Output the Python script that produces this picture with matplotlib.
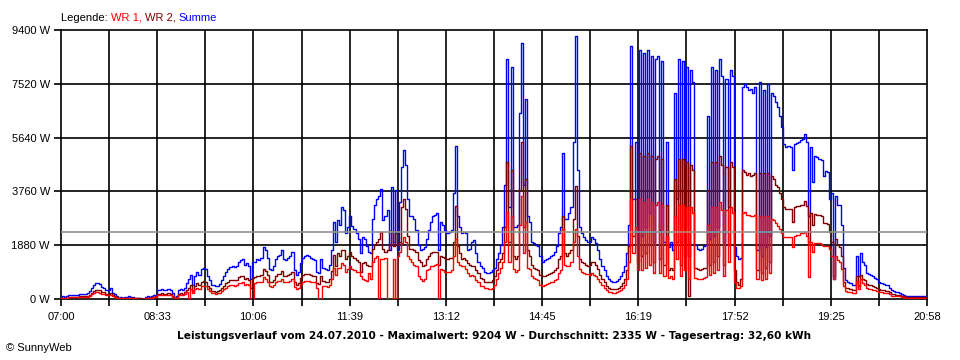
import numpy as np
import matplotlib
matplotlib.use('Agg')
import matplotlib.pyplot as plt

# ---- data (W), one sample every 2 minutes from 07:00 to 20:58 ----
summe = [
    80, 90, 70, 90, 130, 130, 140, 130, 140, 170,
    170, 180, 180, 200, 270, 380, 480, 550, 560, 520,
    430, 400, 300, 330, 370, 220, 190, 120, 50, 60,
    50, 70, 80, 90, 80, 70, 50, 40, 30, 0,
    0, 80, 90, 80, 120, 140, 150, 320, 330, 340,
    330, 320, 340, 320, 200, 40, 100, 300, 350, 330,
    400, 550, 700, 850, 500, 800, 950, 850, 1050, 1100,
    1050, 800, 650, 500, 480, 440, 460, 520, 650, 800,
    950, 1050, 1130, 1150, 1120, 1150, 1300, 1360, 1400, 1200,
    1250, 1150, 700, 1300, 1300, 1400, 1380, 1450, 1800, 1700,
    1450, 1050, 1000, 1150, 1400, 1500, 1530, 1700, 1400, 1380,
    1450, 1500, 1650, 1000, 850, 950, 1250, 1450, 1500, 1530,
    1500, 1450, 1400, 1380, 950, 900, 1400, 1100, 1050, 1000,
    1200, 1700, 2700, 2000, 2750, 2600, 3200, 3100, 2300, 2500,
    2900, 2550, 2450, 2300, 2100, 1600, 2150, 2100, 1850, 1650,
    1600, 2800, 3300, 3500, 3600, 3850, 2750, 2900, 3100, 1700,
    3900, 2000, 3800, 1700, 3400, 4600, 5200, 4700, 3500, 2900,
    2900, 2800, 2400, 1900, 1700, 1750, 1800, 2100, 2400, 2700,
    2900, 2950, 3000, 1700, 2700, 2600, 2400, 2300, 2350, 2400,
    3700, 5350, 2900, 2500, 2300, 2350, 2300, 1700, 1750, 2000,
    2050, 1600, 1300, 1150, 1100, 950, 900, 900, 950, 1000,
    1100, 1400, 1600, 1900, 2500, 4000, 8400, 3200, 8100, 2500,
    2500, 2600, 6500, 8950, 4000, 7000, 2900, 2700, 2000, 1950,
    1900, 1850, 1500, 1300, 1350, 1400, 1450, 1500, 1550, 1650,
    1850, 2300, 2500, 5100, 2800, 2800, 3000, 3200, 5500, 9200,
    4500, 2500, 2300, 2150, 2050, 2000, 2000, 2150, 2100, 1950,
    1700, 1400, 1150, 1000, 800, 700, 620, 600, 600, 620,
    700, 800, 950, 1150, 1600, 2600, 8850, 3500, 5500, 2000,
    8700, 2200, 8600, 2500, 8700, 3000, 8500, 2000, 8400, 8500,
    2400, 8300, 2000, 5500, 1800, 2000, 1700, 7200, 3500, 8400,
    2000, 8300, 2500, 8100, 1500, 8000, 7600, 1900, 1750, 1700,
    1750, 1850, 1900, 6400, 2100, 8100, 2200, 8000, 2500, 8400,
    7800, 2000, 7700, 3200, 8000, 7800, 1800, 1500, 1400, 1450,
    7400, 7500, 7400, 7300, 7350, 7200, 7400, 1700, 7600, 1500,
    7300, 1800, 7500, 2200, 7200, 7100, 6900, 6700, 6400, 6000,
    5400, 5300, 5350, 5300, 4500, 5400, 5450, 5500, 5550, 5600,
    5750, 5500, 2900, 5300, 4100, 5000, 4950, 4900, 4850, 4300,
    4480, 4450, 3500, 3700, 700, 3600, 3300, 3300, 2600, 1100,
    650, 600, 550, 500, 500, 1500, 800, 1600, 1300, 1200,
    900, 870, 850, 800, 750, 700, 600, 550, 520, 500,
    480, 400, 300, 280, 250, 230, 220, 180, 150, 120,
    100, 90, 90, 90, 90, 100, 90, 120, 100, 60,
]

wr2 = [
    50, 50, 40, 50, 75, 75, 80, 75, 80, 100,
    100, 105, 105, 115, 155, 220, 280, 320, 325, 300,
    250, 230, 175, 190, 215, 130, 110, 70, 30, 35,
    30, 40, 45, 50, 45, 40, 30, 25, 20, 0,
    0, 45, 50, 45, 70, 80, 90, 185, 190, 195,
    190, 185, 195, 185, 115, 25, 60, 175, 200, 190,
    230, 320, 400, 490, 290, 460, 550, 490, 610, 640,
    610, 460, 380, 290, 280, 255, 265, 300, 380, 460,
    550, 610, 655, 665, 650, 665, 755, 790, 810, 700,
    725, 665, 400, 750, 755, 810, 800, 840, 1040, 990,
    840, 610, 580, 665, 810, 870, 890, 990, 810, 800,
    840, 870, 955, 580, 490, 550, 725, 840, 870, 890,
    870, 840, 810, 800, 550, 520, 810, 640, 610, 580,
    700, 990, 1550, 1160, 1600, 1500, 1720, 1700, 1400, 1500,
    1650, 1500, 1450, 1350, 1280, 930, 1250, 1280, 1200, 1170,
    1170, 1750, 1900, 2000, 2100, 2330, 1750, 1650, 1700, 1900,
    2330, 1860, 2300, 1900, 2000, 3200, 3500, 3150, 2200, 1750,
    1750, 1700, 1630, 1350, 1280, 1170, 1200, 1400, 1500, 1600,
    1630, 1630, 1630, 1200, 1500, 1480, 1450, 1400, 1420, 1450,
    2000, 3260, 1860, 1600, 1400, 1420, 1380, 1250, 1200, 1170,
    1170, 1000, 900, 750, 700, 600, 580, 580, 580, 650,
    800, 1000, 1300, 1400, 1600, 2500, 4780, 2000, 4500, 1500,
    1400, 1500, 3800, 5480, 2500, 4200, 1700, 1500, 1200, 1100,
    1050, 1000, 850, 800, 820, 850, 880, 900, 930, 1000,
    1100, 1400, 1500, 2900, 1600, 1500, 1600, 1700, 2800, 3960,
    2200, 1400, 1300, 1250, 1200, 1170, 1200, 1300, 1280, 1200,
    1050, 850, 700, 600, 450, 380, 350, 340, 340, 350,
    400, 470, 550, 700, 1000, 1860, 5360, 2200, 3500, 1300,
    5100, 1500, 5000, 1600, 5100, 1900, 5000, 1300, 4900, 5000,
    1400, 4900, 1200, 3300, 1000, 1100, 1000, 4200, 2000, 4900,
    1200, 4900, 1500, 4800, 100, 4700, 4500, 1100, 1050, 1000,
    1050, 1100, 1100, 3800, 1200, 4800, 1300, 4800, 1500, 5000,
    4700, 1200, 4600, 1900, 4800, 4600, 1000, 600, 500, 700,
    4500, 4450, 4350, 4400, 4300, 4350, 4400, 1000, 4400, 900,
    4400, 1100, 4400, 1300, 4300, 4200, 4000, 3900, 3700, 3500,
    3200, 3150, 3150, 3150, 2700, 3200, 3250, 3250, 3300, 3300,
    3440, 3250, 2000, 3000, 2600, 2970, 2950, 2950, 2900, 2650,
    2650, 2620, 2330, 2000, 800, 2100, 1900, 1800, 1500, 600,
    400, 380, 350, 330, 320, 815, 450, 850, 700, 650,
    520, 500, 480, 460, 430, 400, 350, 320, 300, 290,
    280, 230, 180, 160, 145, 130, 125, 105, 90, 70,
    60, 55, 55, 55, 55, 60, 55, 70, 60, 35,
]

wr1 = [
    30, 40, 30, 40, 55, 55, 60, 55, 60, 70,
    70, 75, 75, 85, 115, 160, 200, 230, 235, 220,
    180, 170, 125, 140, 155, 90, 80, 50, 20, 25,
    20, 30, 35, 40, 35, 30, 20, 15, 10, 0,
    0, 35, 40, 35, 50, 60, 60, 135, 140, 145,
    140, 135, 145, 135, 85, 15, 40, 125, 150, 140,
    170, 230, 0, 360, 210, 340, 400, 360, 440, 460,
    440, 340, 270, 210, 200, 185, 195, 220, 270, 340,
    400, 440, 475, 485, 470, 485, 545, 570, 590, 500,
    525, 485, 0, 0, 545, 590, 580, 610, 760, 710,
    610, 440, 420, 485, 590, 630, 640, 710, 590, 580,
    610, 630, 695, 420, 360, 400, 525, 610, 630, 640,
    630, 610, 590, 580, 400, 0, 0, 460, 440, 420,
    500, 710, 1100, 840, 1100, 1080, 1250, 1200, 950, 1050,
    1150, 1050, 1000, 950, 930, 820, 700, 650, 640, 900,
    700, 1300, 1450, 1500, 0, 1400, 1400, 1450, 0, 0,
    0, 1400, 0, 1500, 1630, 1970, 2150, 2000, 1500, 1400,
    1300, 1200, 1170, 820, 700, 640, 700, 1000, 1050, 1150,
    1170, 1200, 1220, 0, 1050, 1000, 950, 930, 950, 1000,
    1500, 2100, 1280, 1200, 1170, 1150, 1050, 900, 820, 850,
    820, 650, 600, 470, 450, 400, 380, 350, 350, 400,
    500, 700, 900, 1100, 1300, 2000, 3030, 1300, 2900, 1050,
    950, 1000, 2600, 3600, 1600, 2700, 1100, 1050, 800, 750,
    700, 650, 500, 470, 480, 520, 550, 580, 600, 650,
    700, 900, 1000, 2450, 1200, 1150, 1170, 1300, 2000, 2450,
    1500, 1050, 950, 900, 870, 870, 850, 900, 850, 820,
    700, 580, 480, 400, 300, 250, 230, 220, 220, 230,
    280, 320, 400, 500, 700, 1280, 3500, 1600, 2500, 1000,
    3500, 1000, 3400, 1100, 3500, 1200, 3400, 900, 3300, 3400,
    900, 3300, 800, 2200, 750, 800, 700, 2900, 1400, 3300,
    800, 3300, 1000, 3200, 700, 3200, 3000, 750, 700, 700,
    700, 750, 760, 2600, 850, 3200, 900, 3200, 1000, 3400,
    3100, 800, 3100, 1300, 3200, 3000, 600, 400, 400, 470,
    3000, 3030, 2950, 2950, 2900, 2900, 2950, 700, 2900, 650,
    2900, 700, 2900, 900, 2800, 2750, 2650, 2550, 2450, 2300,
    2150, 2150, 2150, 2150, 1800, 2200, 2250, 2250, 2300, 2300,
    2330, 2200, 760, 2000, 1630, 1950, 1950, 1950, 1900, 1850,
    1860, 1850, 1750, 1500, 700, 1500, 1350, 1300, 1050, 450,
    280, 250, 230, 200, 200, 640, 350, 700, 550, 500,
    370, 360, 350, 330, 310, 290, 250, 230, 220, 210,
    200, 170, 120, 110, 105, 100, 95, 75, 60, 50,
    40, 35, 35, 35, 35, 40, 35, 50, 40, 25,
]

sample_step_min = 2
day_span_min = 838          # 07:00 .. 20:58
x_tick_labels = ['07:00', '08:33', '10:06', '11:39', '13:12',
                 '14:45', '16:19', '17:52', '19:25', '20:58']
y_tick_values = [0, 1880, 3760, 5640, 7520, 9400]
y_tick_labels = ['0 W', '1880 W', '3760 W', '5640 W', '7520 W', '9400 W']
average_w = 2335
legend_parts = ['Legende: ', 'WR 1, ', 'WR 2, ', 'Summe']
legend_colors = ['black', '#ff0000', '#800000', '#0000ff']
title_text = ('Leistungsverlauf vom 24.07.2010 - Maximalwert: 9204 W - '
              'Durchschnitt: 2335 W - Tagesertrag: 32,60 kWh')

FONT = 'Liberation Sans'
W, H = 960, 360
fig = plt.figure(figsize=(W / 100, H / 100), dpi=100)
fig.patch.set_facecolor('white')
ax = fig.add_axes([61 / W, 1 - 299 / H, 866 / W, 269 / H])

t = np.arange(len(summe)) * sample_step_min

# grid
n_vert = 2 * (len(x_tick_labels) - 1)
vgrid = np.linspace(0, day_span_min, n_vert + 1)
for xv in vgrid[1:-1]:
    ax.axvline(xv, color='black', lw=1.2, zorder=1)
for yv in y_tick_values[1:-1]:
    ax.axhline(yv, color='black', lw=1.2, zorder=1)

ax.plot(t, summe, color='#0000ff', lw=1.0, drawstyle='steps-mid', zorder=3)
ax.plot(t, wr2, color='#800000', lw=1.0, drawstyle='steps-mid', zorder=4)
ax.plot(t, wr1, color='#ff0000', lw=1.0, drawstyle='steps-mid', zorder=5)
ax.axhline(average_w, color='#909090', lw=1.2, zorder=6)

ax.set_xlim(0, day_span_min)
ax.set_ylim(0, y_tick_values[-1])
for s in ax.spines.values():
    s.set_color('black')
    s.set_linewidth(1.2)

ax.set_xticks(vgrid)
xl = [x_tick_labels[i // 2] if i % 2 == 0 else '' for i in range(len(vgrid))]
ax.set_xticklabels(xl, fontsize=8, family=FONT)
ax.set_yticks(y_tick_values)
ax.set_yticklabels(y_tick_labels, fontsize=8, family=FONT)
ax.tick_params(axis='x', length=5, width=1.2, pad=4, color='black')
ax.tick_params(axis='y', length=5, width=1.2, pad=3, color='black')

# legend line at top, pieces placed one after another on one baseline
fig.canvas.draw()
renderer = fig.canvas.get_renderer()
x_px = 61
for s, c in zip(legend_parts, legend_colors):
    txt = fig.text(x_px / W, 1 - 21 / H, s, fontsize=8, family=FONT,
                   color=c, va='baseline', ha='left')
    bb = txt.get_window_extent(renderer)
    x_px += bb.width

fig.text(494 / W, 1 - 336 / H, title_text, fontsize=7.6, family='DejaVu Sans',
         fontweight='bold', ha='center', va='center')
fig.text(6 / W, 1 - 348 / H, '\u00a9 SunnyWeb', fontsize=8, family=FONT,
         ha='left', va='center')

fig.savefig('out.png', dpi=100, facecolor='white')
